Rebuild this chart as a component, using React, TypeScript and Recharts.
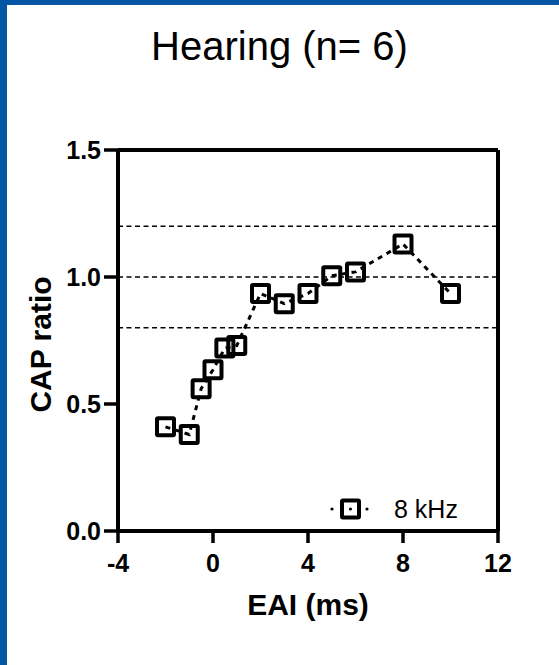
import React from 'react';
import {
  ComposedChart, Line, XAxis, YAxis, ReferenceLine, Label
} from 'recharts';

const eaiMs = [-2, -1, -0.5, 0, 0.5, 1, 2, 3, 4, 5, 6, 8, 10];
const capRatio = [0.41, 0.38, 0.56, 0.635, 0.72, 0.73, 0.935, 0.895, 0.935, 1.005, 1.02, 1.13, 0.935];
const xTicks = [-4, 0, 4, 8, 12];
const yTicks = [0, 0.5, 1.0, 1.5];
const refLevels = [0.8, 1.0, 1.2];
const seriesName = '8 kHz';

const data = eaiMs.map((x, i) => ({ eai: x, cap: capRatio[i] }));

const FONT = '"Liberation Sans", Arial, sans-serif';
const BLUE = '#0455A4';

const SquareDot = (props: any) => {
  const { cx, cy } = props;
  if (cx == null || cy == null) return null;
  return (
    <rect x={cx - 8.5} y={cy - 8.5} width={17} height={17} rx={1}
      fill="none" stroke="#000" strokeWidth={4} />
  );
};

// legend sits inside the plot, bottom right
const LegendBox = () => (
  <div style={{
    position: 'absolute', left: 329, top: 496, display: 'flex', alignItems: 'center',
    fontFamily: FONT, fontSize: 25, lineHeight: '26px', color: '#000'
  }}>
    <svg width={40} height={26} style={{ marginRight: 25, display: 'block' }}>
      <circle cx={3} cy={13} r={1.6} fill="#000" />
      <rect x={13} y={4.5} width={17} height={17} rx={1} fill="none" stroke="#000" strokeWidth={4} />
      <circle cx={21.5} cy={13} r={1.6} fill="#000" />
      <circle cx={38} cy={13} r={1.6} fill="#000" />
    </svg>
    <span>{seriesName}</span>
  </div>
);

const tickStyle = { fill: '#000', fontSize: 25, fontWeight: 'bold', fontFamily: FONT };

export default function App() {
  return (
    <div style={{ position: 'absolute', left: 0, top: 0, width: 559, height: 665, background: '#fff' }}>
      <div style={{ position: 'absolute', left: 0, top: 0, width: 7, height: 665, background: BLUE }} />
      <div style={{ position: 'absolute', left: 0, top: 0, width: 559, height: 5, background: BLUE }} />
      <div style={{
        position: 'absolute', left: 0, top: 26, width: 559, textAlign: 'center',
        fontFamily: FONT, fontSize: 40, lineHeight: '40px', color: '#000'
      }}>
        Hearing (n= 6)
      </div>
      <ComposedChart width={559} height={665} data={data}
        margin={{ top: 150, right: 61, bottom: 0, left: 0 }}>
        <XAxis
          dataKey="eai"
          type="number"
          domain={[-4, 12]}
          ticks={xTicks}
          allowDataOverflow
          height={134}
          tick={tickStyle}
          tickSize={12}
          tickMargin={11}
          tickLine={{ stroke: '#000', strokeWidth: 3.5 }}
          axisLine={{ stroke: '#000', strokeWidth: 4 }}
        >
          <Label
            content={({ viewBox }: any) => (
              <text x={viewBox.x + viewBox.width / 2} y={615} textAnchor="middle"
                fontFamily={FONT} fontSize={30} fontWeight="bold" fill="#000">
                EAI (ms)
              </text>
            )}
          />
        </XAxis>
        <YAxis
          type="number"
          domain={[0, 1.5]}
          ticks={yTicks}
          tickFormatter={(v: number) => v.toFixed(1)}
          width={118}
          tick={tickStyle}
          tickSize={14}
          tickMargin={3}
          tickLine={{ stroke: '#000', strokeWidth: 3.5 }}
          axisLine={{ stroke: '#000', strokeWidth: 4 }}
        >
          <Label
            content={({ viewBox }: any) => {
              const cy = viewBox.y + viewBox.height / 2 + 4;
              return (
                <text x={40} y={cy} textAnchor="middle" dy={10.5}
                  transform={`rotate(-90, 40, ${cy})`}
                  fontFamily={FONT} fontSize={30} fontWeight="bold" fill="#000">
                  CAP ratio
                </text>
              );
            }}
          />
        </YAxis>
        {refLevels.map(v => (
          <ReferenceLine key={v} y={v} stroke="#000" strokeWidth={1.5} strokeDasharray="5 3.5" />
        ))}
        <ReferenceLine y={1.5} stroke="#000" strokeWidth={4} />
        <ReferenceLine x={12} stroke="#000" strokeWidth={4} />
        <Line
          dataKey="cap"
          name={seriesName}
          type="linear"
          stroke="#000"
          strokeWidth={3}
          strokeDasharray="5 5"
          dot={<SquareDot />}
          activeDot={false}
          isAnimationActive={false}
        />
      </ComposedChart>
      <LegendBox />
    </div>
  );
}
